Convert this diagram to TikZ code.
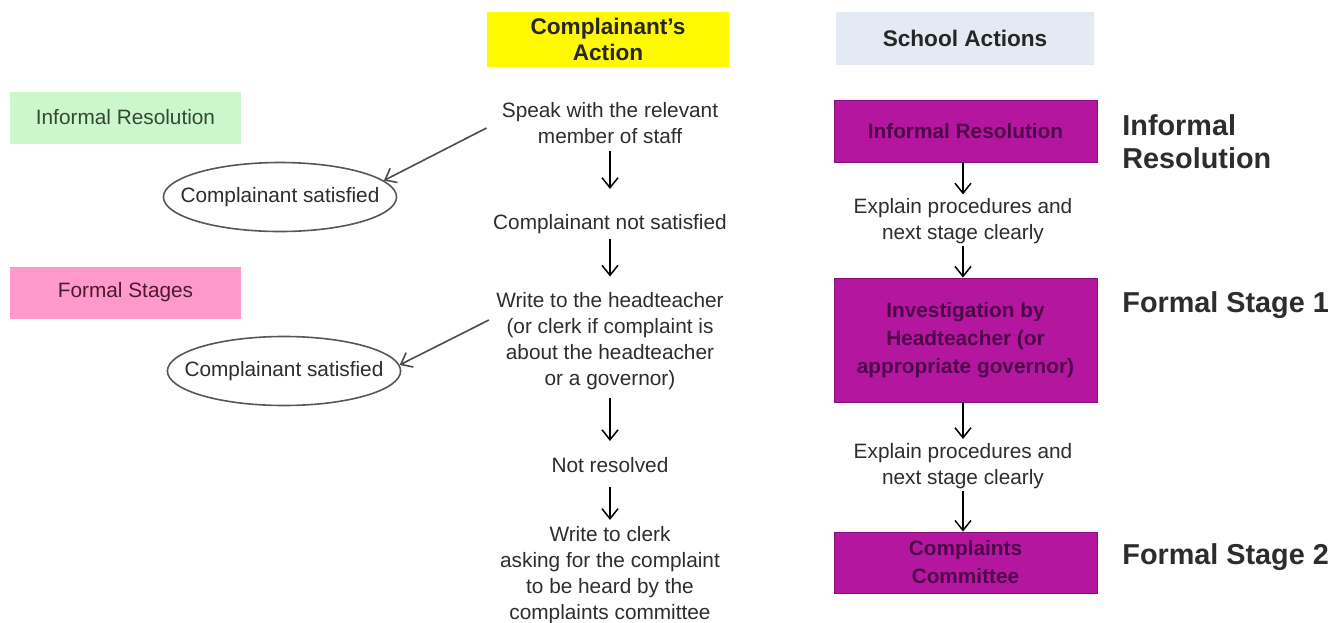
\documentclass[tikz,border=0pt]{standalone}
\usepackage{fontspec}
\setmainfont{Liberation Sans}
\usetikzlibrary{arrows.meta,shapes.geometric}
\definecolor{textgray}{RGB}{45,45,45}
\definecolor{headyellow}{RGB}{255,250,0}
\definecolor{headblue}{RGB}{228,234,244}
\definecolor{sidegreen}{RGB}{204,246,204}
\definecolor{sidepink}{RGB}{255,153,204}
\definecolor{greentext}{RGB}{52,72,52}
\definecolor{pinktext}{RGB}{72,28,46}
\definecolor{boxpurple}{RGB}{180,22,160}
\definecolor{textpurple}{RGB}{78,6,72}

\begin{document}
\begin{tikzpicture}[x = 0.5pt, y = -0.5pt, >={Straight Barb[length=5pt, width=8pt]},
	action/.style = {align = center, inner sep = 0pt, text = textgray, font = \fontsize{10.4}{13}\selectfont},
	header/.style = {fill = #1, align = center, text = black!85, font = \bfseries\fontsize{11.3}{13}\selectfont},
	sidebox/.style = {fill = #1, minimum width = 115.5pt, minimum height = 26pt, font = \fontsize{10.4}{13}\selectfont},
	stagebox/.style = {fill = boxpurple, draw = boxpurple!75!black, line width = 0.4pt, minimum width = 131.5pt, align = center, text = textpurple, font = \bfseries\fontsize{10.4}{14}\selectfont},
	outcome/.style = {ellipse, draw = textgray!80, line width = 0.8pt, inner xsep = -8.5pt, inner ysep = 0pt, minimum width = 116pt, minimum height = 34.5pt, text = textgray, font = \fontsize{10.4}{13}\selectfont},
	stagename/.style = {anchor = west, align = left, inner sep = 0pt, text = textgray, font = \bfseries\fontsize{14.4}{16.5}\selectfont},
	flow/.style = {->, line width = 0.75pt, black},
	back/.style = {->, line width = 0.8pt, textgray!85}]
	\useasboundingbox (0,0) rectangle (1335,622);

	% headings
	\node[header = headyellow, minimum width = 121pt, minimum height = 27.5pt](cact) at (608,39.5){Complainant’s\\Action};
	\node[header = headblue, minimum width = 129pt, minimum height = 26.5pt](sact) at (965,38.5){School Actions};
	\node[sidebox = sidegreen, text = greentext](infres) at (125.5,117.5){Informal Resolution};
	\node[sidebox = sidepink, text = pinktext](formal) at (125.5,292.5){Formal Stages};

	% complainant
	\node[action](speak) at (610,123){Speak with the relevant\\member of staff};
	\node[action](notsat) at (610,224){Complainant not satisfied};
	\node[action](write) at (610,341){Write to the headteacher\\(or clerk if complaint is\\about the headteacher\\or a governor)};
	\node[action](notres) at (610,465){Not resolved};
	\node[action](clerk) at (610,575){Write to clerk\\asking for the complaint\\to be heard by the\\complaints committee};
	\node[outcome](sat1) at (280,197){Complainant satisfied};
	\node[outcome](sat2) at (284,371){Complainant satisfied};

	% school
	\node[stagebox, minimum height = 31pt](inf) at (965.5,131){Informal Resolution};
	\node[action](explain1) at (963,221.5){Explain procedures and\\next stage clearly};
	\node[stagebox, minimum height = 62pt](inv) at (965.5,340){Investigation by\\Headteacher (or\\appropriate governor)};
	\node[action](explain2) at (963,466){Explain procedures and\\next stage clearly};
	\node[stagebox, minimum height = 30.5pt](comm) at (965.5,562.5){Complaints\\Committee};

	\node[stagename](st0) at (1122,141.5){Informal\\Resolution};
	\node[stagename](st1) at (1122,305){Formal Stage 1};
	\node[stagename](st2) at (1122,557){Formal Stage 2};

	\path[flow](speak) edge[shorten < = 3.5pt, shorten > = 12.5pt] (notsat);
	\path[flow](notsat) edge[shorten < = 2.7pt, shorten > = 7.7pt] (write);
	\path[flow](write) edge[shorten < = 3.7pt, shorten > = 8pt] (notres);
	\path[flow](notres) edge[shorten < = 7pt, shorten > = 3pt] (clerk);
	\path[flow](inf.south -| explain1) edge[shorten > = 2pt] (explain1);
	\path[flow](explain1) edge[shorten < = 0.7pt] (inv.north -| explain1);
	\path[flow](inv.south -| explain2) edge[shorten > = 2pt] (explain2);
	\path[flow](explain2) edge[shorten < = 0.7pt] (comm.north -| explain2);
	\path[back]([shift = {(-15,5)}]speak.west) edge (sat1.9);
	\path[back]([shift = {(-7,-21)}]write.west) edge (sat2.3);

\end{tikzpicture}
\end{document}
